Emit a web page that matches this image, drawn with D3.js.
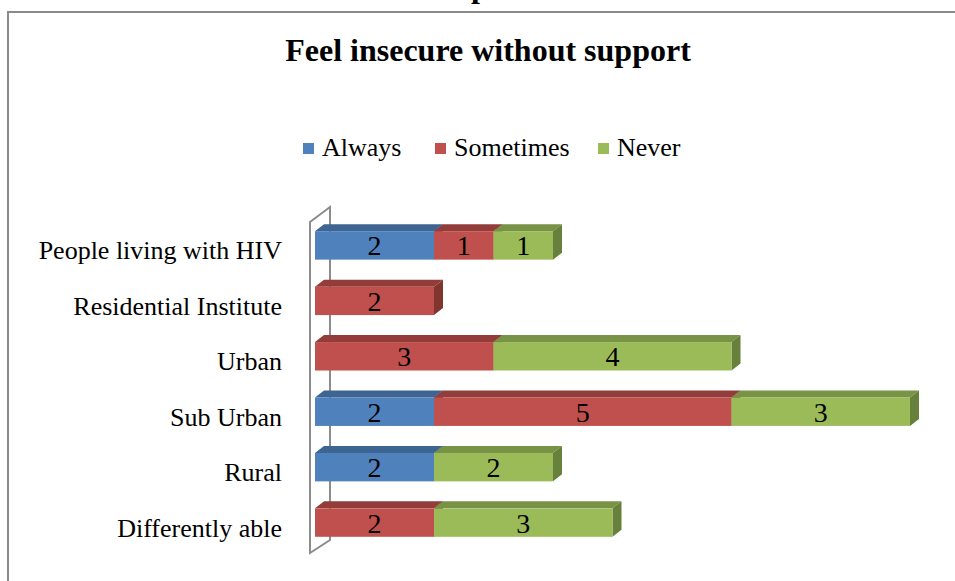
<!DOCTYPE html>
<html>
<head>
<meta charset="utf-8">
<script src="https://cdn.jsdelivr.net/npm/d3@7"></script>
<style>
  body { margin: 0; background: #fff; }
  svg { display: block; font-family: "Liberation Serif", "Times New Roman", serif; }
</style>
</head>
<body>
<svg id="chart" width="955" height="581"></svg>
<script>
// chart data
var categories = ["People living with HIV", "Residential Institute", "Urban", "Sub Urban", "Rural", "Differently able"];
var seriesNames = ["Always", "Sometimes", "Never"];
var always    = [2, 0, 0, 2, 2, 0];
var sometimes = [1, 2, 3, 5, 0, 2];
var never     = [1, 0, 4, 3, 2, 3];

var front = ["#4f81bd", "#c0504d", "#9bbb59"];
var top_  = ["#3e6592", "#933d3b", "#789345"];
var side  = ["#36587f", "#80352f", "#67803b"];

var svg = d3.select("#chart");
var dx = 9, dy = -7;   // 3d depth of the bars

// outer frame (only top and left visible)
svg.append("path")
  .attr("d", "M8,581 L8,12 L955,12")
  .attr("fill", "none")
  .attr("stroke", "#8a8a8a")
  .attr("stroke-width", 2);

// cut off heading above frame
svg.append("text")
  .attr("x", 480).attr("y", -3)
  .attr("text-anchor", "middle")
  .attr("font-size", 32).attr("font-weight", "bold")
  .text("p");

svg.append("text")
  .attr("x", 488).attr("y", 61)
  .attr("text-anchor", "middle")
  .attr("font-size", 32).attr("font-weight", "bold")
  .text("Feel insecure without support");

// legend
var legendX = [303, 435, 598];
var legend = svg.selectAll("g.legend")
  .data(seriesNames)
  .enter().append("g")
  .attr("class", "legend")
  .attr("transform", (d, i) => "translate(" + legendX[i] + ",143)");
legend.append("rect")
  .attr("width", 11).attr("height", 11)
  .attr("fill", (d, i) => front[i]);
legend.append("text")
  .attr("x", 19).attr("y", 13)
  .attr("font-size", 26)
  .text(d => d);

var x = d3.scaleLinear().domain([0, 10]).range([315, 910]);
var y = d3.scaleBand().domain(categories)
  .range([217.7, 550.3]).paddingInner(0.487).paddingOuter(0.2435);

// side wall
svg.append("path")
  .attr("d", "M330,207 L310,222 L310,553 L330,540 Z")
  .attr("fill", "none")
  .attr("stroke", "#8c8c8c")
  .attr("stroke-width", 2);

// category labels
svg.selectAll("text.cat")
  .data(categories)
  .enter().append("text")
  .attr("class", "cat")
  .attr("x", 282)
  .attr("y", d => y(d) + y.bandwidth() / 2 + 14)
  .attr("text-anchor", "end")
  .attr("font-size", 26)
  .text(d => d);

// stacked segments
var rows = categories.map(function(c, i) {
  return { cat: c, Always: always[i], Sometimes: sometimes[i], Never: never[i] };
});
var stacked = d3.stack().keys(seriesNames)(rows);

var segs = [];
stacked.forEach(function(layer, si) {
  layer.forEach(function(d) {
    if (d[1] - d[0] > 0) segs.push({ s: si, x0: d[0], x1: d[1], cat: d.data.cat, v: d[1] - d[0] });
  });
});

var g = svg.append("g");
var bh = y.bandwidth();
segs.forEach(function(d) {
  var x0 = x(d.x0), x1 = x(d.x1), y0 = y(d.cat), y1 = y0 + bh;
  // top face
  g.append("path")
    .attr("d", "M" + x0 + "," + y0 + " L" + (x0 + dx) + "," + (y0 + dy) +
      " L" + (x1 + dx) + "," + (y0 + dy) + " L" + x1 + "," + y0 + " Z")
    .attr("fill", top_[d.s]);
  // right face
  g.append("path")
    .attr("d", "M" + x1 + "," + y0 + " L" + (x1 + dx) + "," + (y0 + dy) +
      " L" + (x1 + dx) + "," + (y1 + dy) + " L" + x1 + "," + y1 + " Z")
    .attr("fill", side[d.s]);
  // front face
  g.append("rect")
    .attr("x", x0).attr("y", y0)
    .attr("width", x1 - x0).attr("height", bh)
    .attr("fill", front[d.s]);
  g.append("text")
    .attr("x", (x0 + x1) / 2)
    .attr("y", y0 + bh / 2 + 10)
    .attr("text-anchor", "middle")
    .attr("font-size", 28)
    .text(d.v);
});
</script>
</body>
</html>
